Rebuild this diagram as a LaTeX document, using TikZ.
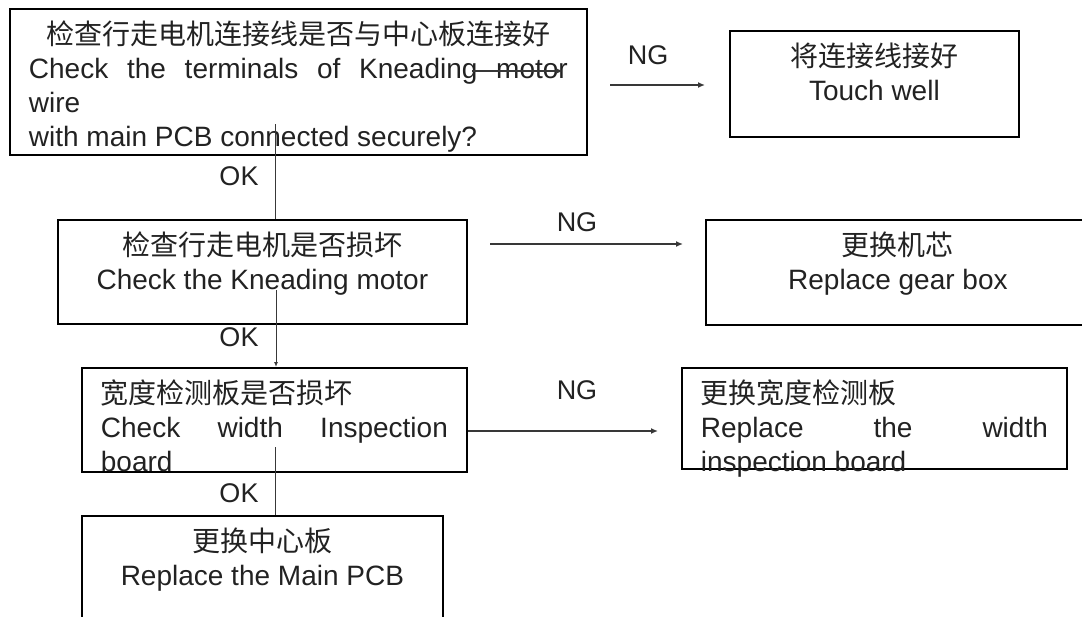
\documentclass[tikz,border=0pt]{standalone}
\usepackage{fontspec}
\setmainfont{Liberation Sans}
\newfontfamily\cjk{Noto Sans CJK SC}
\usetikzlibrary{arrows.meta}
\definecolor{ink}{HTML}{222222}
\definecolor{wirec}{HTML}{383838}
\newcommand{\flowtext}[3]{\parbox[t][#2][t]{#1}{\fontsize{28pt}{34pt}\selectfont\raggedright\color{ink}\rule{0pt}{36pt}#3}}
\tikzset{
  flowbox/.style={draw=black, line width=1.8pt, inner xsep=19pt, inner ysep=0pt, anchor=north west},
  lbl/.style={inner sep=0pt, text=ink, font=\fontsize{27pt}{32pt}\selectfont},
  thinwire/.style={draw=wirec, line width=1pt},
  ngwire/.style={draw=wirec, line width=2.4pt, -{Latex[length=7pt,width=6pt]}},
}
\begin{document}
\begin{tikzpicture}[x=1pt,y=-1pt]
\useasboundingbox (0,0) rectangle (1082,616);
% boxes
\node[flowbox] (b1) at (9,8) {\flowtext{539pt}{146pt}{\makebox[\linewidth]{\cjk 检查行走电机连接线是否与中心板连接好}\\
\makebox[\linewidth][s]{Check the terminals of Kneading motor}\\
wire\\
with main PCB connected securely?}};
\node[flowbox] (t1) at (729,30) {\flowtext{251pt}{106pt}{\makebox[\linewidth]{\cjk 将连接线接好}\\
\makebox[\linewidth]{Touch well}}};
\node[flowbox] (b2) at (57,219) {\flowtext{371pt}{104pt}{\makebox[\linewidth]{\cjk 检查行走电机是否损坏}\\
\makebox[\linewidth]{Check the Kneading motor}}};
\node[flowbox] (t2) at (705,219) {\flowtext{346pt}{105pt}{\makebox[\linewidth]{\cjk 更换机芯}\\
\makebox[\linewidth]{Replace gear box}}};
\node[flowbox] (b4) at (81,367) {\flowtext{347pt}{104pt}{{\cjk 宽度检测板是否损坏}\\
\makebox[\linewidth][s]{Check width Inspection}\\
board}};
\node[flowbox] (t4) at (681,367) {\flowtext{347pt}{101pt}{{\cjk 更换宽度检测板}\\
\makebox[\linewidth][s]{Replace the width}\\
inspection board}};
\node[flowbox] (b6) at (81,515) {\flowtext{323pt}{130pt}{\makebox[\linewidth]{\cjk 更换中心板}\\
\makebox[\linewidth]{Replace the Main PCB}}};
% connector end points
\coordinate (s0a) at (472,71);
\coordinate (s0b) at (563,71);
\coordinate (s1) at (275,124);
\coordinate (s2) at (276,290);
\coordinate (s3) at (275,447);
\coordinate (n1a) at (610,85);
\coordinate (n1b) at (705,85);
\coordinate (n2a) at (490,244);
\coordinate (n2b) at (683,244);
\coordinate (n3a) at (b4.east |- 0,431);
\coordinate (n3b) at (658,431);
% connectors
\draw[ngwire] (s0a) -- (s0b);
\draw[thinwire] (s1) -- (s1 |- b2.north);
\draw[thinwire,-{Latex[length=5pt,width=4pt]}] (s2) -- (s2 |- b4.north);
\draw[thinwire] (s3) -- (s3 |- b6.north);
\draw[ngwire] (n1a) -- (n1b);
\draw[ngwire] (n2a) -- (n2b);
\draw[ngwire] (n3a) -- (n3b);
% labels
\node[lbl] (ok1) at (239,176) {OK};
\node[lbl] (ok2) at (239,337) {OK};
\node[lbl] (ok3) at (239,493) {OK};
\node[lbl] (ng1) at (648,55) {NG};
\node[lbl] (ng2) at (577,222) {NG};
\node[lbl] (ng3) at (577,390) {NG};
\end{tikzpicture}
\end{document}
